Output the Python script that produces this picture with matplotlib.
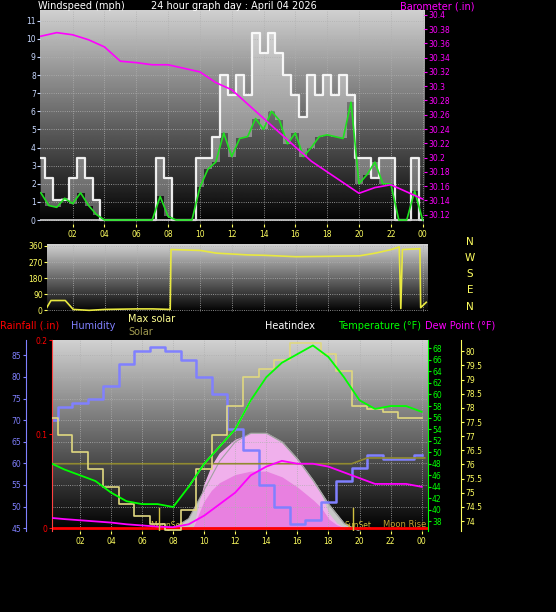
import matplotlib
matplotlib.use('Agg')
import matplotlib.pyplot as plt
import numpy as np

# ---- data ----
wind_t = np.arange(0, 24.5, 0.5)
gust = [3.4, 2.3, 1.1, 1.1, 2.3, 3.4, 2.3, 1.1, 0, 0, 0, 0, 0, 0, 0, 3.4, 2.3, 0, 0, 0,
        3.4, 3.4, 4.6, 8.0, 6.9, 8.0, 6.9, 10.3, 9.2, 10.3, 9.2, 8.0, 6.9, 5.7, 8.0, 6.9,
        8.0, 6.9, 8.0, 6.9, 3.4, 3.4, 2.3, 3.4, 3.4, 0, 0, 3.4, 0]
wind_avg = [1.5, 0.8, 0.7, 1.2, 0.9, 1.5, 0.8, 0.3, 0, 0, 0, 0, 0, 0, 0, 1.3, 0.2, 0, 0, 0,
            1.8, 2.8, 3.2, 4.8, 3.5, 4.5, 4.6, 5.6, 5.0, 6.0, 5.5, 4.2, 4.8, 3.5, 4.0, 4.6,
            4.7, 4.6, 4.5, 6.5, 2.0, 2.5, 3.2, 2.0, 2.0, 0, 0, 1.6, 0]
baro_t = np.arange(0, 25)
baro = [30.37, 30.375, 30.372, 30.365, 30.355, 30.335, 30.333, 30.33, 30.33, 30.325,
        30.32, 30.305, 30.295, 30.275, 30.255, 30.235, 30.215, 30.195, 30.18, 30.165,
        30.15, 30.158, 30.162, 30.152, 30.142]

dir_t = [0.3, 0.6, 1.5, 2.0, 3.0, 4.0, 6.0, 7.0, 8.1, 8.15, 10, 11, 12, 13, 14, 16, 18, 20,
         21, 22, 22.5, 22.6, 22.7, 23.8, 23.85, 24.2]
wind_dir = [10, 55, 55, 5, 0, 5, 8, 8, 5, 340, 335, 320, 315, 310, 308, 300, 302, 305,
            320, 340, 355, 10, 340, 345, 15, 45]

hum_t = [0.2, 1, 2, 3, 4, 5, 6, 7, 8, 9, 10, 11, 12, 13, 14, 15, 16, 17, 18, 19, 20, 21, 22, 23, 24]
humidity = [70, 73, 74, 75, 78, 83, 86, 87, 86, 84, 80, 76, 68, 63, 55, 50, 46, 47, 51, 56,
            59, 62, 61, 61, 62]
temperature = [48, 47, 46, 45, 43, 41.5, 41, 41, 40.5, 44, 48, 51, 54, 59, 63, 65.5, 67,
               68.5, 66.5, 63, 59, 57.5, 58, 58, 57]
dewpoint = [38.6, 38.4, 38.2, 38, 37.8, 37.5, 37.3, 37.1, 37, 37.5, 39, 41, 43, 46, 47.5,
            48.5, 48, 48, 47.5, 46.5, 45.5, 44.5, 44.5, 44.5, 44]
heat_yel = [56, 53, 50, 47, 44, 41, 39, 37.5, 36.5, 40, 47, 53, 58, 63, 64.5, 66, 69, 69,
            67, 64, 58, 57.5, 57, 56, 56]
olive_t = [0.2, 19.5, 20.5, 24.2]
olive = [48, 48, 49, 49]

sol_t = [8, 9, 10, 11, 12, 13, 14, 15, 16, 17, 18, 19, 19.6]
max_solar = [0, 10, 40, 70, 90, 99, 99, 90, 72, 50, 25, 5, 0]
solar_t = [9.3, 9.5, 10, 10.5, 11, 12, 13, 14, 15, 16, 17, 17.5, 18, 18.5, 19]
solar = [0, 12, 45, 65, 78, 92, 98, 98, 88, 70, 48, 35, 15, 5, 0]

hours = [2, 4, 6, 8, 10, 12, 14, 16, 18, 20, 22, 24]
hour_labels = ['02', '04', '06', '08', '10', '12', '14', '16', '18', '20', '22', '00']

BLUE = '#8080ff'
GREEN = '#00ff00'
MAG = '#ff00ff'
YEL = '#ffff60'
fs = 5.5

fig = plt.figure(figsize=(5.56, 6.12), dpi=100, facecolor='black')
grad = np.linspace(0.82, 0.0, 256).reshape(-1, 1)


def background(rect):
    bg = fig.add_axes(rect, zorder=0)
    bg.imshow(grad, extent=[0, 1, 0, 1], aspect='auto', cmap='gray', vmin=0, vmax=1)
    bg.set_xlim(0, 1)
    bg.set_ylim(0, 1)
    bg.axis('off')
    return bg


def style(ax, color):
    ax.patch.set_visible(False)
    for s in ax.spines.values():
        s.set_visible(False)
    ax.tick_params(axis='y', colors=color, labelsize=fs, length=2, pad=1)
    ax.tick_params(axis='x', colors=YEL, labelsize=fs, length=2, pad=2)


def xgrid(ax, lo, hi):
    ax.set_xlim(lo, hi)
    ax.set_xticks(hours)
    ax.set_xticklabels(hour_labels)
    ax.grid(True, color='#b0b0b0', ls=':', lw=0.6)


# ---- top panel: wind + barometer ----
r1 = [0.072, 0.634, 0.691, 0.350]
background(r1)
ax1 = fig.add_axes(r1, zorder=1)
style(ax1, '#c8d8ff')
xgrid(ax1, -0.05, 24.1)
ax1.set_ylim(-0.22, 11.6)
ax1.set_yticks(range(0, 12))
ax1.fill_between(wind_t, wind_avg, gust, step='mid', color='white', alpha=0.35, lw=0)
ax1.step(wind_t, gust, where='mid', color='white', lw=1.6, alpha=0.9)
ax1.axhline(0, color='#d0d0d0', lw=1.2)
ax1.plot(wind_t, wind_avg, color='#20e020', lw=1.2)
ax1b = ax1.twinx()
style(ax1b, MAG)
ax1b.set_ylim(30.107, 30.407)
ax1b.set_yticks(np.arange(30.12, 30.41, 0.02))
ax1b.set_yticklabels(['30.12', '30.14', '30.16', '30.18', '30.2', '30.22', '30.24', '30.26',
                      '30.28', '30.3', '30.32', '30.34', '30.36', '30.38', '30.4'])
ax1b.plot(baro_t, baro, color=MAG, lw=1.2)
fig.text(0.068, 0.998, 'Windspeed (mph)', color='white', fontsize=7, va='top')
fig.text(0.42, 0.998, '24 hour graph day : April 04 2026', color='white', fontsize=7,
         va='top', ha='center')
fig.text(0.72, 0.998, 'Barometer (.in)', color=MAG, fontsize=7, va='top')

# ---- middle panel: wind direction ----
r2 = [0.0845, 0.490, 0.685, 0.111]
background(r2)
ax2 = fig.add_axes(r2, zorder=1)
style(ax2, YEL)
xgrid(ax2, 0.35, 24.3)
ax2.set_xticklabels([])
ax2.tick_params(axis='x', length=0)
ax2.set_ylim(-10, 370)
ax2.set_yticks([0, 90, 180, 270, 360])
ax2.plot(dir_t, wind_dir, color='#e8e840', lw=1.2)
for i, lab in enumerate(['N', 'W', 'S', 'E', 'N']):
    fig.text(0.845, 0.605 - i * 0.0265, lab, color=YEL, fontsize=7.5, ha='center', va='center')

# ---- bottom panel ----
r3 = [0.0935, 0.132, 0.676, 0.312]
background(r3)
lo, hi = 0.2, 24.4
axs = fig.add_axes(r3, zorder=1)
axs.axis('off')
axs.set_xlim(lo, hi)
axs.set_ylim(-3.1, 195.8)
axs.fill_between(sol_t, max_solar, color='#c8c8c8')
axs.plot([7.6] + sol_t + [20], [-3] + max_solar + [-3], color='#a0a0a0', lw=0.8)
axs.fill_between(solar_t, solar, color='#f0b0ec')
axs.fill_between(solar_t, np.array(solar) * 0.6, color='#e880e0')

ax3 = fig.add_axes(r3, zorder=2)
style(ax3, BLUE)
ax3.spines['left'].set_visible(True)
ax3.spines['left'].set_color(BLUE)
ax3.spines['left'].set_position(('outward', 19))
xgrid(ax3, lo, hi)
ax3.set_ylim(44.3, 88.5)
ax3.set_yticks(range(45, 90, 5))
ax3.plot(hum_t, humidity, color=BLUE, lw=1.8, drawstyle='steps-mid')

axr = ax3.twinx()
style(axr, 'red')
axr.yaxis.tick_left()
axr.spines['left'].set_visible(True)
axr.spines['left'].set_color('#ff4040')
axr.set_ylim(-0.003, 0.2)
axr.set_yticks([0, 0.1, 0.2])
axr.set_yticklabels(['0', '0.1', '0.2'])
axr.axhline(0, color='red', lw=2)

axt = ax3.twinx()
style(axt, GREEN)
axt.spines['right'].set_visible(True)
axt.spines['right'].set_color(GREEN)
axt.set_ylim(36.3, 69.4)
axt.set_yticks(range(38, 70, 2))
axt.plot(olive_t, olive, color='#908a30', lw=1.2)
axt.plot(hum_t, heat_yel, color='#e0d880', lw=1.2, drawstyle='steps-mid')
axt.plot(hum_t[9:14], temperature[9:14], color='white', lw=1.0)
axt.plot(hum_t, temperature, color=GREEN, lw=1.3)
axt.plot(hum_t, dewpoint, color=MAG, lw=1.3)
axt.axvline(7.1, ymax=0.12, color='#d0c040', lw=1)
axt.axvline(19.6, ymax=0.12, color='#d0c040', lw=1)

axh = ax3.twinx()
style(axh, YEL)
axh.spines['right'].set_visible(True)
axh.spines['right'].set_color(YEL)
axh.spines['right'].set_position(('outward', 24))
axh.set_ylim(73.64, 80.39)
axh.set_yticks(np.arange(74, 80.1, 0.5))
axh.set_yticklabels(['74', '74.5', '75', '75.5', '76', '76.5', '77', '77.5', '78', '78.5',
                     '79', '79.5', '80'])

for x, s in [(7.6, 'MoonSet'), (19.9, 'SunSet')]:
    ax3.text(x, 44.6, s, color='#d0c040', fontsize=fs, ha='center', va='bottom')
ax3.text(24.3, 44.8, 'Moon Rise', color='#c0a030', fontsize=6, ha='right', va='bottom')

hy = 0.468
fig.text(0.0, hy, 'Rainfall (.in)', color='red', fontsize=7, va='center')
fig.text(0.128, hy, 'Humidity', color=BLUE, fontsize=7, va='center')
fig.text(0.23, hy + 0.01, 'Max solar', color='#ffff90', fontsize=7, va='center')
fig.text(0.23, hy - 0.01, 'Solar', color='#a09a50', fontsize=7, va='center')
fig.text(0.477, hy, 'Heatindex', color='white', fontsize=7, va='center')
fig.text(0.608, hy, 'Temperature (\u00b0F)', color=GREEN, fontsize=7, va='center')
fig.text(0.765, hy, 'Dew Point (\u00b0F)', color=MAG, fontsize=7, va='center')

fig.savefig('out.png', dpi=100, facecolor='black')
